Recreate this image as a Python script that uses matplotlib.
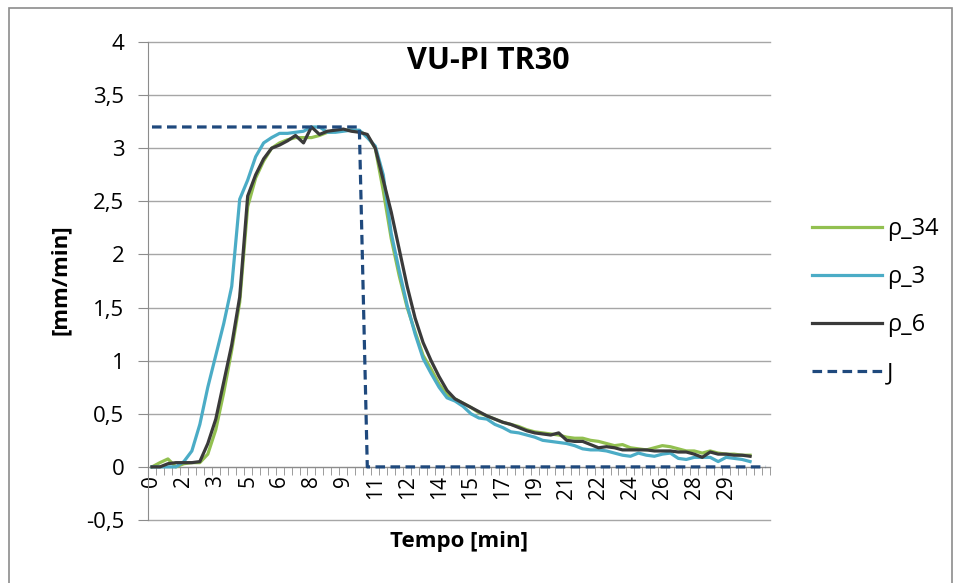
import matplotlib.pyplot as plt
import numpy as np
from matplotlib.patches import Rectangle

# tick labels shown every 4th category (Excel category axis)
tick_labels = ["0", "2", "3", "5", "6", "8", "9", "11", "12", "14",
               "15", "17", "19", "21", "22", "24", "26", "28", "29"]
n_categories = 78

rho_34 = [0, 0.04, 0.075, 0.0, 0.03, 0.04, 0.04, 0.12, 0.35, 0.7,
          1.1, 1.55, 2.45, 2.72, 2.88, 3.0, 3.05, 3.08, 3.1, 3.1,
          3.1, 3.12, 3.15, 3.16, 3.17, 3.17, 3.16, 3.12, 3.0, 2.6,
          2.15, 1.8, 1.5, 1.27, 1.05, 0.92, 0.78, 0.68, 0.64, 0.6,
          0.56, 0.51, 0.48, 0.45, 0.42, 0.40, 0.38, 0.35, 0.33, 0.32,
          0.31, 0.30, 0.28, 0.27, 0.27, 0.25, 0.24, 0.22, 0.20, 0.21,
          0.18, 0.17, 0.16, 0.18, 0.20, 0.19, 0.17, 0.15, 0.15, 0.13,
          0.15, 0.13, 0.12, 0.12, 0.11, 0.11]

rho_3 = [0, 0, 0, 0.0, 0.05, 0.15, 0.4, 0.75, 1.05, 1.35,
         1.7, 2.52, 2.7, 2.92, 3.05, 3.1, 3.14, 3.14, 3.15, 3.16,
         3.2, 3.2, 3.15, 3.15, 3.16, 3.17, 3.17, 3.1, 3.02, 2.75,
         2.2, 1.85, 1.52, 1.25, 1.02, 0.88, 0.75, 0.65, 0.62, 0.57,
         0.50, 0.46, 0.45, 0.40, 0.37, 0.33, 0.32, 0.30, 0.28, 0.25,
         0.24, 0.23, 0.22, 0.20, 0.17, 0.16, 0.16, 0.15, 0.13, 0.11,
         0.10, 0.13, 0.11, 0.10, 0.12, 0.13, 0.08, 0.07, 0.09, 0.09,
         0.09, 0.05, 0.09, 0.08, 0.07, 0.05]

rho_6 = [0, 0, 0.03, 0.04, 0.04, 0.04, 0.05, 0.22, 0.45, 0.8,
         1.15, 1.6, 2.55, 2.75, 2.9, 3.0, 3.03, 3.07, 3.12, 3.05,
         3.2, 3.13, 3.16, 3.17, 3.18, 3.16, 3.15, 3.13, 3.0, 2.7,
         2.4, 2.05, 1.7, 1.4, 1.17, 1.0, 0.85, 0.72, 0.64, 0.60,
         0.56, 0.52, 0.48, 0.45, 0.42, 0.40, 0.37, 0.34, 0.32, 0.31,
         0.30, 0.32, 0.25, 0.24, 0.24, 0.21, 0.18, 0.19, 0.18, 0.16,
         0.16, 0.16, 0.16, 0.15, 0.15, 0.15, 0.14, 0.14, 0.12, 0.09,
         0.14, 0.12, 0.12, 0.11, 0.11, 0.10]

J = [3.2] * 27 + [0.0] * 51

plt.rcParams.update({
    "font.family": ["Open Sans", "DejaVu Sans"],
    "font.size": 15,
})

fig = plt.figure(figsize=(9.56, 5.83), dpi=100)
fig.patches.append(Rectangle((9 / 956, -0.1), 943 / 956, 1.1 - 8 / 583,
                             transform=fig.transFigure, fill=False,
                             edgecolor="#8c8c8c", linewidth=1.2))

ax = fig.add_axes([148 / 956, 1 - 520 / 583, 622 / 956, 478 / 583])

x = np.arange(len(rho_6))
ax.plot(x, rho_34, color="#92C050", linewidth=2.3, label="ρ_34", zorder=3)
ax.plot(x, rho_3, color="#4BACC6", linewidth=2.3, label="ρ_3", zorder=3)
ax.plot(x, rho_6, color="#3A3A3A", linewidth=2.3, label="ρ_6", zorder=4)
ax.plot(np.arange(len(J)), J, color="#1F497D", linewidth=2.3,
        linestyle=(0, (3, 1.7)), label="J", zorder=5, clip_on=False)

ax.set_xlim(-0.5, n_categories - 0.5)
ax.set_ylim(-0.5, 4)

yticks = np.arange(-0.5, 4.01, 0.5)
ax.set_yticks(yticks)
ax.set_yticklabels([f"{v:g}".replace(".", ",") for v in yticks], fontsize=16)
ax.yaxis.grid(True, color="#a6a6a6", linewidth=1)
for gl in ax.get_ygridlines():
    gl.set_clip_on(False)
ax.set_axisbelow(True)

for s in ["top", "right"]:
    ax.spines[s].set_visible(False)
ax.spines["left"].set_color("#8c8c8c")
ax.spines["bottom"].set_color("#8c8c8c")
ax.spines["bottom"].set_position(("data", 0))
ax.spines["bottom"].set_zorder(2)

ax.set_xticks(np.arange(0, 73, 4))
ax.set_xticklabels(tick_labels, rotation=90, fontsize=15)
ax.set_xticks(np.arange(-0.5, n_categories, 1), minor=True)
ax.tick_params(axis="x", which="major", length=0, pad=6)
ax.tick_params(axis="x", which="minor", length=6, color="#8c8c8c", direction="out")
ax.tick_params(axis="y", length=7, color="#8c8c8c", direction="out", pad=10)

fig.text(60 / 956, 1 - 280 / 583, "[mm/min]", fontweight="bold", fontsize=16,
         rotation=90, ha="center", va="center")
fig.text(459 / 956, 1 - 541 / 583, "Tempo [min]", fontweight="bold",
         fontsize=16, ha="center", va="center")
fig.text(488 / 956, 1 - 61 / 583, "VU-PI TR30", fontweight="bold",
         fontsize=22, ha="center", va="center")

fig.legend(loc="upper left", bbox_to_anchor=(791 / 956, 1 - 196 / 583),
           frameon=False, handlelength=2.97, handletextpad=0.2,
           labelspacing=1.02, fontsize=17)

plt.savefig("out.png", dpi=100)
